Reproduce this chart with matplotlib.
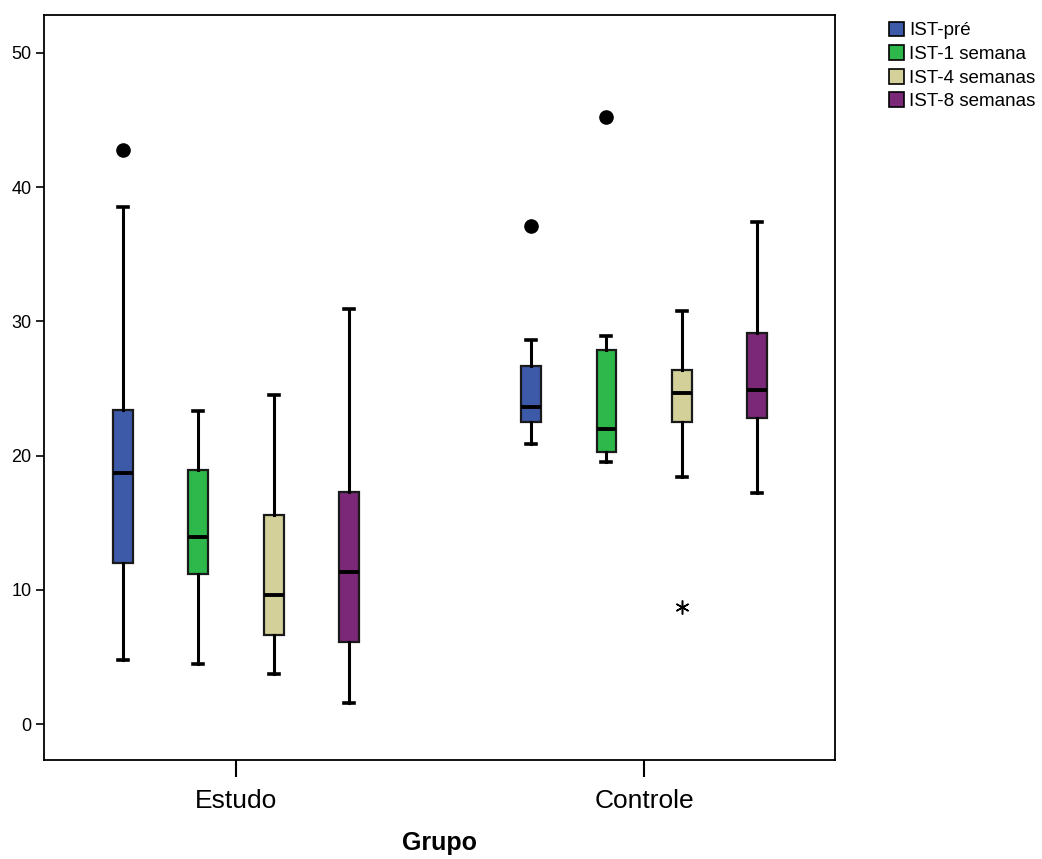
import matplotlib.pyplot as plt
from matplotlib.patches import Patch

plt.rcParams['font.family'] = ['Liberation Sans', 'DejaVu Sans']

grupos = ['Estudo', 'Controle']
series = ['IST-pré', 'IST-1 semana', 'IST-4 semanas', 'IST-8 semanas']
colors = ['#3D5AA9', '#2EB84B', '#D4D09A', '#7B2878']

# (whislo, q1, med, q3, whishi) per group, per series
estudo = [[4.8, 12.0, 18.7, 23.4, 38.5],
          [4.5, 11.2, 13.9, 18.9, 23.3],
          [3.7, 6.6, 9.6, 15.6, 24.5],
          [1.6, 6.1, 11.3, 17.3, 30.9]]
controle = [[20.9, 22.5, 23.6, 26.7, 28.6],
            [19.5, 20.3, 22.0, 27.9, 28.9],
            [18.4, 22.5, 24.7, 26.4, 30.8],
            [17.2, 22.8, 24.9, 29.1, 37.4]]
# outliers (circles) and extremes (stars)
outliers = {(0, 0): [42.8], (1, 0): [37.1], (1, 1): [45.2]}
extremes = {(1, 2): [8.7]}

offsets = [-0.2775, -0.0925, 0.0925, 0.2775]

fig = plt.figure(figsize=(10.42, 8.59), dpi=100)
ax = fig.add_axes([44 / 1042, 99 / 859, 791 / 1042, 745 / 859])

for g, data in enumerate([estudo, controle]):
    for s, vals in enumerate(data):
        st = dict(whislo=vals[0], q1=vals[1], med=vals[2], q3=vals[3],
                  whishi=vals[4], fliers=[])
        pos = g + offsets[s]
        ax.bxp([st], positions=[pos], widths=0.048, patch_artist=True,
               showfliers=False, capwidths=0.024,
               boxprops=dict(facecolor=colors[s], edgecolor='#1a1a1a', linewidth=1.6),
               medianprops=dict(color='black', linewidth=2.8),
               whiskerprops=dict(color='black', linewidth=2.2),
               capprops=dict(color='black', linewidth=2.6))
        if (g, s) in outliers:
            ys = outliers[(g, s)]
            ax.plot([pos] * len(ys), ys, 'o', color='black', markersize=9.5)
        if (g, s) in extremes:
            ys = extremes[(g, s)]
            ax.plot([pos] * len(ys), ys, marker=(6, 2, 0), color='black',
                    markersize=10, linestyle='none', markeredgewidth=1.1)

ax.set_xlim(-0.4706, 1.468)
ax.set_ylim(-2.68, 52.83)
ax.set_xticks([0, 1])
ax.set_xticklabels(grupos, fontsize=19)
ax.set_yticks([0, 10, 20, 30, 40, 50])
ax.tick_params(axis='y', labelsize=13, length=6, width=1.2, direction='out', pad=3)
ax.tick_params(axis='x', length=12, width=1.5, pad=9, direction='out')
for sp in ax.spines.values():
    sp.set_linewidth(1.3)
ax.set_xlabel('Grupo', fontsize=18, fontweight='bold', labelpad=13)

handles = [Patch(facecolor=c, edgecolor='black', linewidth=1.2, label=l)
           for c, l in zip(colors, series)]
fig.legend(handles=handles, loc='upper left', bbox_to_anchor=(881 / 1042, 1 - 14 / 859),
           frameon=False, fontsize=13.5, handlelength=0.85, handleheight=0.85,
           handletextpad=0.25, labelspacing=0.3, borderaxespad=0)

fig.savefig('out.png', dpi=100)
